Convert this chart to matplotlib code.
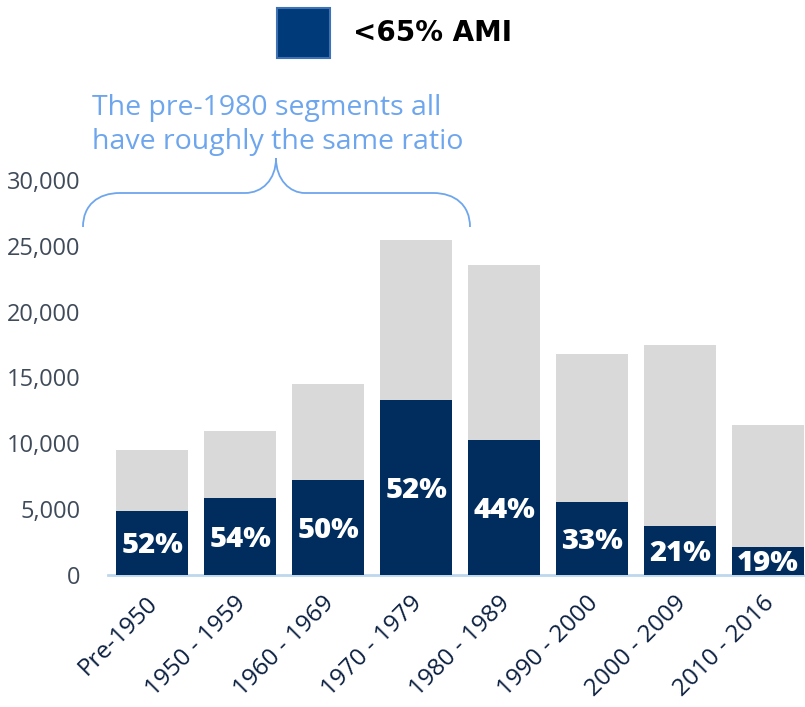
import matplotlib
matplotlib.use("Agg")
import matplotlib.pyplot as plt
from matplotlib.patches import Rectangle, PathPatch
from matplotlib.path import Path
import matplotlib.transforms as mtransforms
import numpy as np

categories = ["Pre-1950", "1950 - 1959", "1960 - 1969", "1970 - 1979",
              "1980 - 1989", "1990 - 2000", "2000 - 2009", "2010 - 2016"]
total_units = [9480, 10930, 14500, 25400, 23570, 16800, 17480, 11390]
below_65_ami = [4860, 5850, 7200, 13300, 10240, 5520, 3690, 2090]
pct_labels = ["52%", "54%", "50%", "52%", "44%", "33%", "21%", "19%"]
y_ticks = [0, 5000, 10000, 15000, 20000, 25000, 30000]

NAVY = "#002D5E"
GREY = "#D9D9D9"
ANNOT = "#6EA6EE"

W, H = 805, 707
fig = plt.figure(figsize=(W / 100, H / 100), dpi=100)

def fx(x):
    return x / W

def fy(y):
    return (H - y) / H

ax = fig.add_axes([fx(108), fy(574.5), fx(805) - fx(108), fy(180) - fy(574.5)])

x = np.arange(len(categories))
bw = 0.82
ax.bar(x, total_units, width=bw, color=GREY, zorder=2)
ax.bar(x, below_65_ami, width=bw, color=NAVY, zorder=3)

lab_off = mtransforms.ScaledTranslation(0, -3 / 100, fig.dpi_scale_trans)
for xi, v, lab in zip(x, below_65_ami, pct_labels):
    ax.text(xi, v / 2, lab, ha="center", va="center", color="white",
            fontsize=21, fontweight="heavy", family="Open Sans", zorder=4,
            transform=ax.transData + lab_off)

ax.set_xlim(-0.5, 7.42)
ax.set_ylim(0, 30000)
ax.set_yticks(y_ticks)
ax.set_yticklabels([f"{t:,}" for t in y_ticks], family="Open Sans",
                   fontsize=17, color="#404B5A")
ax.tick_params(axis="y", length=0, pad=20)
ax.set_xticks(x)
ax.set_xticklabels(categories, rotation=45, ha="right", family="Open Sans",
                   fontsize=17.5, color="#0B1F40")
ax.tick_params(axis="x", length=0, pad=12)
offset = mtransforms.ScaledTranslation(11 / 100, 0, fig.dpi_scale_trans)
for lbl in ax.get_xticklabels():
    lbl.set_transform(lbl.get_transform() + offset)

for s in ["top", "right", "left"]:
    ax.spines[s].set_visible(False)
ax.spines["bottom"].set_color("#BDD7EE")
ax.spines["bottom"].set_linewidth(2)
ax.set_facecolor("none")

# legend
fig.patches.append(Rectangle((fx(277), fy(58)), fx(330) - fx(277), fy(8) - fy(58),
                             transform=fig.transFigure, facecolor="#003A78",
                             edgecolor="#3F72B5", linewidth=1.5))
fig.text(fx(353), fy(33), "<65% AMI", ha="left", va="center",
         fontsize=20, fontweight="bold", family="DejaVu Sans", color="black")

# annotation
fig.text(fx(92), fy(108), "The pre-1980 segments all", ha="left", va="center",
         fontsize=20.5, family="Open Sans", color=ANNOT)
fig.text(fx(92), fy(142), "have roughly the same ratio", ha="left", va="center",
         fontsize=20.5, family="Open Sans", color=ANNOT)

pts = [(83, 227), (83, 205), (98, 193), (120, 193),
       (245, 193),
       (262, 193), (276, 180), (276, 158),
       (276, 180), (290, 193), (305, 193),
       (433, 193),
       (455, 193), (470, 205), (470, 227)]
codes = [Path.MOVETO, Path.CURVE4, Path.CURVE4, Path.CURVE4,
         Path.LINETO,
         Path.CURVE4, Path.CURVE4, Path.CURVE4,
         Path.CURVE4, Path.CURVE4, Path.CURVE4,
         Path.LINETO,
         Path.CURVE4, Path.CURVE4, Path.CURVE4]
verts = [(fx(a), fy(b)) for a, b in pts]
fig.patches.append(PathPatch(Path(verts, codes), transform=fig.transFigure,
                             fill=False, edgecolor=ANNOT, linewidth=1.3))

fig.savefig("out.png", dpi=100)
